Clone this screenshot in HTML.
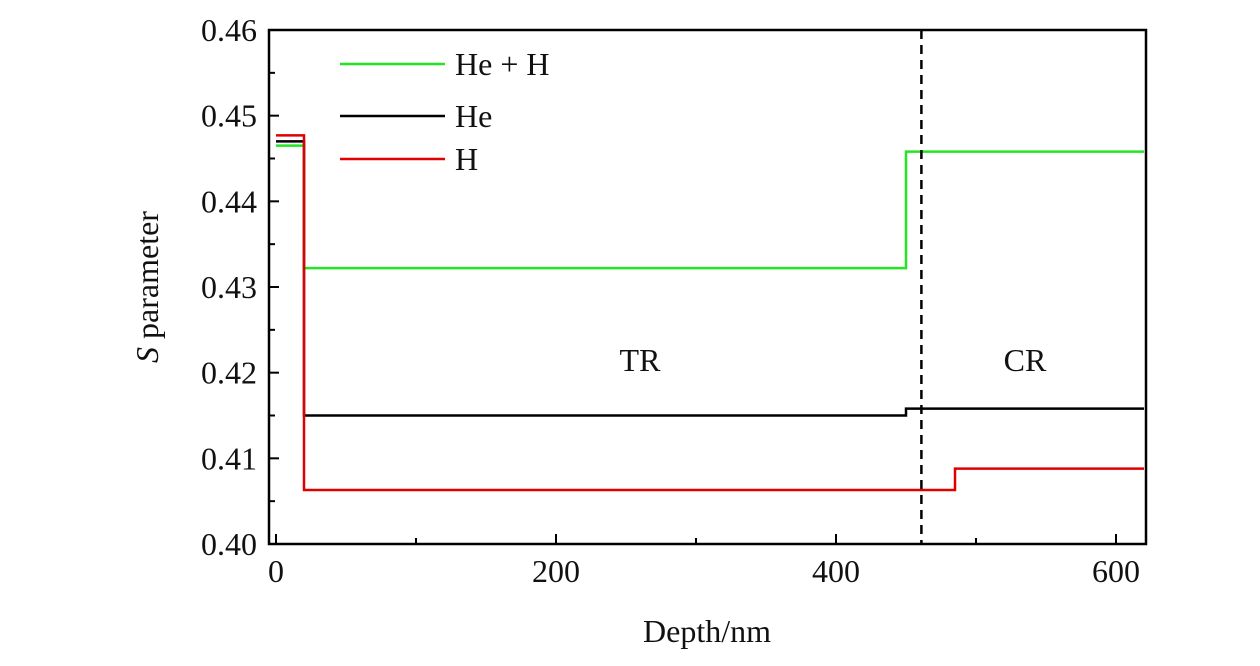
<!DOCTYPE html>
<html><head><meta charset="utf-8"><style>
body{margin:0;background:#fff}
svg text{font-family:"Liberation Serif",serif;fill:#111}
</style></head><body>
<svg width="1260" height="661">
<g id="plot"></g>
</svg>
<script>
const seriesNames=["He+H","He","H"];
const colors=["#22e622","#000000","#e00000"];
const stepX=[[0,20,450,620],[0,20,450,620],[0,20,485,620]];
const stepY=[[0.4465,0.4322,0.4458],[0.4470,0.4150,0.4158],[0.4477,0.4063,0.4088]];
const xTicks=[0,200,400,600];
const yTicks=[0.40,0.41,0.42,0.43,0.44,0.45,0.46];
const boundary=461;
const regions=[["TR",260,0.4215],["CR",535,0.4215]];
const L=269,R=1146,T=30,B=544;
const X=v=>276+(v-0)*1.40;
const Y=v=>B-(v-0.40)/0.06*(B-T);
const g=document.getElementById('plot');
const NS="http://www.w3.org/2000/svg";
function mk(t,a,p){const e=document.createElementNS(NS,t);for(const k in a)e.setAttribute(k,a[k]);(p||g).appendChild(e);return e;}
let e;
stepX.forEach((xs,i)=>{
  let d="M"+X(xs[0])+","+Y(stepY[i][0]);
  for(let j=0;j<stepY[i].length;j++){d+=" H"+X(xs[j+1]);if(j+1<stepY[i].length)d+=" V"+Y(stepY[i][j+1]);}
  e=mk('path',{d:d,fill:'none',stroke:colors[i],'stroke-width':2.5});
  
  
});
e=mk('line',{x1:X(boundary),x2:X(boundary),y1:T,y2:B,stroke:'#000','stroke-width':2.5,'stroke-dasharray':'9,6'});


e=mk('rect',{x:L,y:T,width:R-L,height:B-T,fill:'none',stroke:'#000','stroke-width':2.5});


xTicks.forEach(v=>{
  e=mk('line',{x1:X(v),x2:X(v),y1:B,y2:B-10,stroke:'#000','stroke-width':2});
  
  
  e=mk('text',{x:X(v),y:B+38,'text-anchor':'middle','font-size':32});e.textContent=v;
  
  
});
[100,300,500].forEach(v=>{e=mk('line',{x1:X(v),x2:X(v),y1:B,y2:B-6,stroke:'#000','stroke-width':2});
  
  });
yTicks.forEach((v,i)=>{
  e=mk('line',{x1:L,x2:L+10,y1:Y(v),y2:Y(v),stroke:'#000','stroke-width':2});
  
  
  if(i<yTicks.length-1){e=mk('line',{x1:L,x2:L+6,y1:Y(v+0.005),y2:Y(v+0.005),stroke:'#000','stroke-width':2});
    
    }
  e=mk('text',{x:L-12,y:Y(v)+11,'text-anchor':'end','font-size':32});e.textContent=v.toFixed(2);
  
  
});
regions.forEach(r=>{e=mk('text',{x:X(r[1]),y:Y(r[2])+11,'text-anchor':'middle','font-size':32});e.textContent=r[0];
  
  });
const legY=[64,116,159];
const legText=["He + H","He","H"];
seriesNames.forEach((n,i)=>{
  e=mk('line',{x1:340,x2:445,y1:legY[i],y2:legY[i],stroke:colors[i],'stroke-width':2.5});
  
  
  e=mk('text',{x:455,y:legY[i]+11,'font-size':32});e.textContent=legText[i];
  
  
});
e=mk('text',{x:707,y:642,'text-anchor':'middle','font-size':32});e.textContent="Depth/nm";


e=mk('text',{x:0,y:0,'text-anchor':'middle','font-size':32,transform:'translate(158,287) rotate(-90)'});
e.innerHTML='<tspan font-style="italic">S</tspan> parameter';


</script>
</body></html>
